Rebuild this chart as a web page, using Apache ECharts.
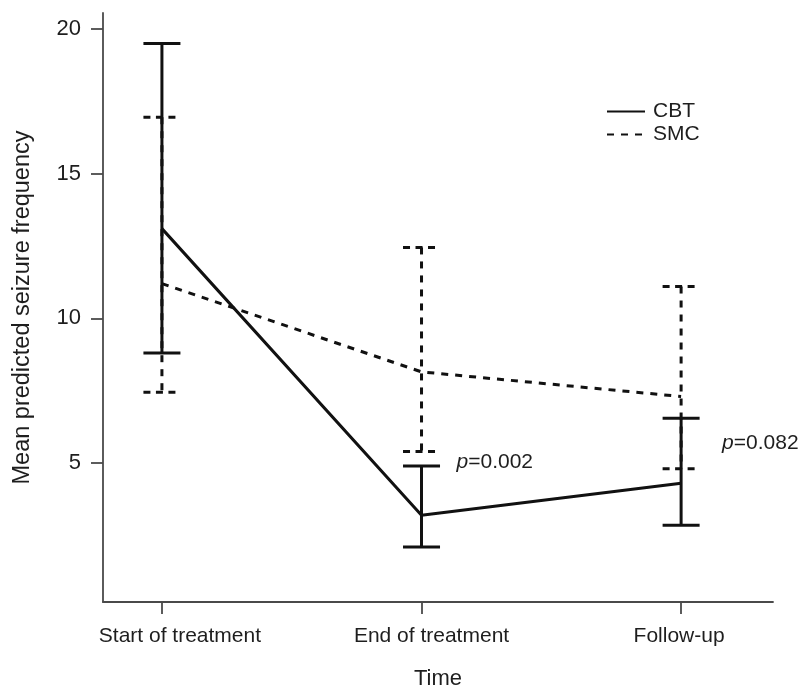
<!DOCTYPE html>
<html>
<head>
<meta charset="utf-8">
<script src="https://cdn.jsdelivr.net/npm/echarts@6/dist/echarts.min.js"></script>
<style>html,body{margin:0;padding:0;background:#fff}#c{width:802px;height:690px}</style>
</head>
<body>
<div id="c"></div>
<script>
var categories = ['Start of treatment', 'End of treatment', 'Follow-up'];
var cbtMean = [13.1, 3.2, 4.3];
var cbtLow = [8.8, 2.1, 2.85];
var cbtHigh = [19.5, 4.9, 6.55];
var smcMean = [11.2, 8.15, 7.3];
var smcLow = [7.45, 5.4, 4.8];
var smcHigh = [16.95, 12.45, 11.1];
var yTicks = [5, 10, 15, 20];
var pLabels = ['', 'p=0.002', 'p=0.082'];

var FONT = '"Liberation Sans", Arial, sans-serif';
var TXT = '#1e1e1e';
var chart = echarts.init(document.getElementById('c'), null, {renderer: 'canvas'});

function pts(arr) { return arr.map(function (v, i) { return [i, v]; }); }
function errData(lo, hi) { return lo.map(function (v, i) { return [i, v, hi[i]]; }); }

function errRender(dashed) {
  return function (params, api) {
    var x = api.value(0);
    var lo = api.coord([x, api.value(1)]);
    var hi = api.coord([x, api.value(2)]);
    var hw = 18.5;
    var st = {stroke: '#111', lineWidth: 3, lineDash: dashed ? [7, 7] : null};
    var stc = {stroke: '#111', lineWidth: 3, lineDash: dashed ? [7, 5.5] : null};
    return {
      type: 'group',
      children: [
        {type: 'line', shape: {x1: hi[0], y1: hi[1], x2: lo[0], y2: lo[1]}, style: st},
        {type: 'line', shape: {x1: hi[0] - hw, y1: hi[1], x2: hi[0] + hw, y2: hi[1]}, style: stc},
        {type: 'line', shape: {x1: lo[0] - hw, y1: lo[1], x2: lo[0] + hw, y2: lo[1]}, style: stc}
      ]
    };
  };
}

var labelRich = {
  s: {fontFamily: FONT, fontSize: 21, color: TXT, padding: [0, 0, 0, 36]},
  e: {fontFamily: FONT, fontSize: 21, color: TXT, padding: [0, 0, 0, 20]},
  f: {fontFamily: FONT, fontSize: 21, color: TXT, padding: [0, 4, 0, 0]}
};
var labelKeys = ['s', 'e', 'f'];

var option = {
  animation: false,
  backgroundColor: '#fff',
  grid: {left: 103, right: 29, top: 13, bottom: 88, outerBoundsMode: 'none', containLabel: false},
  legend: {
    orient: 'vertical', left: 601, top: 96,
    itemWidth: 38, itemHeight: 14, itemGap: 2,
    data: ['CBT', 'SMC'],
    itemStyle: {opacity: 0},
    textStyle: {fontFamily: FONT, fontSize: 21, color: TXT, padding: [0, 0, 0, 3]}
  },
  xAxis: {
    type: 'value', min: -0.227, max: 2.354,
    name: 'Time', nameLocation: 'middle', nameGap: 66,
    nameTextStyle: {fontFamily: FONT, fontSize: 22, color: TXT},
    axisLine: {show: true, onZero: false, lineStyle: {color: '#4a4a4a', width: 1.8}},
    axisTick: {show: true, length: 12, lineStyle: {color: '#4a4a4a', width: 1.8}, customValues: [0, 1, 2]},
    axisLabel: {customValues: [0, 1, 2], margin: 24, fontFamily: FONT, fontSize: 21, color: TXT,
      rich: labelRich,
      formatter: function (v) { var i = Math.round(v); return '{' + labelKeys[i] + '|' + categories[i] + '}'; }},
    splitLine: {show: false}
  },
  yAxis: {
    type: 'value', min: 0.2, max: 20.55,
    name: 'Mean predicted seizure frequency', nameLocation: 'middle', nameGap: 68,
    nameTextStyle: {fontFamily: FONT, fontSize: 23.5, color: TXT},
    axisLine: {show: true, onZero: false, lineStyle: {color: '#4a4a4a', width: 1.8}},
    axisTick: {show: true, length: 12, lineStyle: {color: '#4a4a4a', width: 1.8}, customValues: yTicks},
    axisLabel: {customValues: yTicks, margin: 22, fontFamily: FONT, fontSize: 22, color: TXT},
    splitLine: {show: false}
  },
  series: [
    {name: 'SMC', type: 'line', data: pts(smcMean), symbol: 'none', z: 2,
      lineStyle: {color: '#111', width: 3, type: [7, 7]}, itemStyle: {color: '#111'}},
    {name: 'CBT', type: 'line', data: pts(cbtMean), symbol: 'none', z: 3,
      lineStyle: {color: '#111', width: 3, type: 'solid'}, itemStyle: {color: '#111'}},
    {name: 'smcErr', type: 'custom', data: errData(smcLow, smcHigh), renderItem: errRender(true), z: 2},
    {name: 'cbtErr', type: 'custom', data: errData(cbtLow, cbtHigh), renderItem: errRender(false), z: 3}
  ]
};
chart.setOption(option);

// p-value annotations, placed next to the CBT error bars
var annotOffsets = [null, [35, 463], [41, 444]];
var gr = [];
pLabels.forEach(function (t, i) {
  if (!t) return;
  var px = chart.convertToPixel({gridIndex: 0}, [i, cbtHigh[i]]);
  gr.push({
    type: 'text', left: px[0] + annotOffsets[i][0], top: annotOffsets[i][1] - 11,
    style: {rich: {i: {fontStyle: 'italic', fontFamily: FONT, fontSize: 21, fill: TXT}},
      text: '{i|p}' + t.slice(1), font: '21px ' + FONT, fill: TXT}
  });
});
chart.setOption({graphic: gr});
</script>
</body>
</html>
